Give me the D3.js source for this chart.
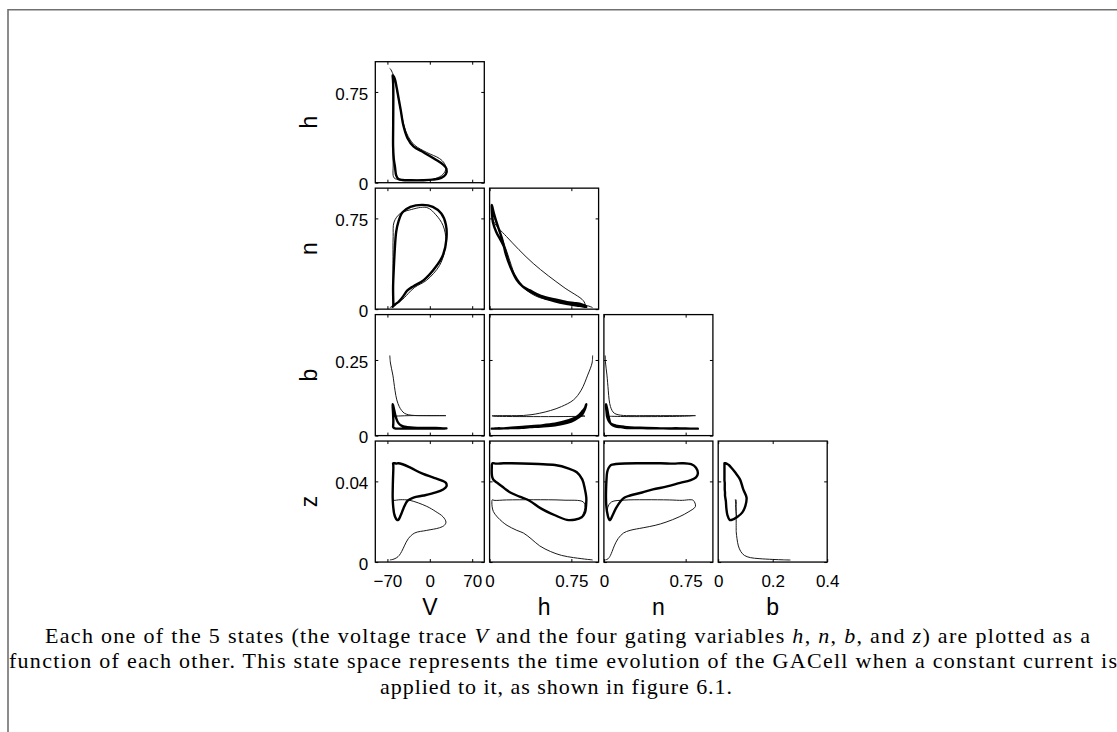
<!DOCTYPE html>
<html>
<head>
<meta charset="utf-8">
<script src="https://cdn.jsdelivr.net/npm/d3@7/dist/d3.min.js"></script>
<style>
  html, body { margin: 0; padding: 0; background: #fff; }
  svg { display: block; }
</style>
</head>
<body>
<svg id="fig" width="1117" height="732"></svg>
<script>
// ---- State-space data: transient after current onset (thin) and the limit cycle (thick) ----
const transV = [-66, -65, -61, -57.5, -54.5, -50.5, -46.5, -42, -35.5, -25, -5, 16, 24, 26.7, 22, 10, -5, -33, -49, -59, -60.5, -60.8, -60.6, -60.3, -60, -57];
const transH = [0.945, 0.94, 0.90, 0.84, 0.77, 0.66, 0.56, 0.46, 0.38, 0.31, 0.25, 0.20, 0.16, 0.12, 0.07, 0.035, 0.023, 0.022, 0.025, 0.04, 0.155, 0.40, 0.674, 0.86, 0.875, 0.845];
const transN = [0.012, 0.015, 0.028, 0.040, 0.048, 0.060, 0.075, 0.095, 0.13, 0.18, 0.24, 0.36, 0.47, 0.57, 0.69, 0.78, 0.84, 0.82, 0.79, 0.72, 0.60, 0.378, 0.185, 0.07, 0.035, 0.04];
const transB = [0.265, 0.24, 0.20, 0.15, 0.118, 0.096, 0.083, 0.074, 0.069, 0.0665, 0.066, 0.066, 0.066, 0.066, 0.066, 0.066, 0.066, 0.066, 0.065, 0.064, 0.0632, 0.0628, 0.063, 0.0638, 0.064, 0.068];
const transZ = [0.0010, 0.0011, 0.0013, 0.0017, 0.0022, 0.0033, 0.0052, 0.0080, 0.0116, 0.0144, 0.0157, 0.0170, 0.0182, 0.0198, 0.0224, 0.0250, 0.0276, 0.0306, 0.0309, 0.0306, 0.0308, 0.0309, 0.0307, 0.0298, 0.0270, 0.0222];

const cycleV = [-55.5, -57.5, -59.5, -60.6, -60.5, -60.3, -60.2, -60.4, -60.8, -61.2, -61.3, -60.6, -59.2, -57, -54.5, -52, -48, -43.5, -37, -27, -10, 10, 22, 27.5, 26.5, 19, 5, -12, -32, -45, -52];
const cycleH = [0.06, 0.13, 0.20, 0.30, 0.45, 0.60, 0.72, 0.80, 0.85, 0.875, 0.887, 0.885, 0.875, 0.845, 0.78, 0.71, 0.60, 0.47, 0.37, 0.30, 0.25, 0.19, 0.15, 0.115, 0.07, 0.04, 0.025, 0.02, 0.02, 0.022, 0.03];
const cycleN = [0.64, 0.52, 0.33, 0.19, 0.11, 0.065, 0.042, 0.030, 0.024, 0.020, 0.019, 0.022, 0.030, 0.040, 0.050, 0.058, 0.080, 0.11, 0.155, 0.19, 0.24, 0.35, 0.45, 0.58, 0.70, 0.79, 0.845, 0.862, 0.845, 0.80, 0.72];
const cycleB = [0.023, 0.024, 0.026, 0.029, 0.033, 0.039, 0.050, 0.062, 0.080, 0.092, 0.104, 0.100, 0.088, 0.068, 0.052, 0.042, 0.034, 0.030, 0.028, 0.026, 0.025, 0.025, 0.024, 0.024, 0.024, 0.023, 0.023, 0.023, 0.023, 0.023, 0.023];
const cycleZ = [0.0488, 0.0490, 0.0490, 0.0489, 0.0486, 0.0481, 0.0465, 0.0445, 0.0410, 0.0360, 0.0320, 0.0280, 0.0245, 0.0222, 0.0210, 0.0209, 0.0232, 0.0266, 0.0303, 0.0320, 0.0330, 0.0345, 0.0360, 0.0375, 0.0393, 0.0405, 0.0420, 0.0438, 0.0468, 0.0485, 0.0490];

// ---- Axes ----
const rowVars = ["h", "n", "b", "z"];
const colVars = ["V", "h", "n", "b"];
const domainV = [-90, 90];
const domainH = [0, 1];
const domainN = [0, 1];
const domainB = [0, 0.4];
const domainZ = [0, 0.06];

const xTicksV = [-70, 0, 70], xLabelsV = ["\u221270", "0", "70"];
const xTicksH = [0, 0.75],    xLabelsH = ["0", "0.75"];
const xTicksN = [0, 0.75],    xLabelsN = ["0", "0.75"];
const xTicksB = [0, 0.2, 0.4], xLabelsB = ["0", "0.2", "0.4"];
const yTicksH = [0, 0.75],    yLabelsH = ["0", "0.75"];
const yTicksN = [0, 0.75],    yLabelsN = ["0", "0.75"];
const yTicksB = [0, 0.25],    yLabelsB = ["0", "0.25"];
const yTicksZ = [0, 0.04],    yLabelsZ = ["0", "0.04"];

// ---- Caption ----
const captionLine1 = ["Each one of the 5 states (the voltage trace ", ["V"], " and the four gating variables ", ["h"], ", ", ["n"], ", ", ["b"], ", and ", ["z"], ") are plotted as a"];
const captionLine2 = ["function of each other. This state space represents the time evolution of the GACell when a constant current is"];
const captionLine3 = ["applied to it, as shown in figure 6.1."];

// ---------------------------------------------------------------------------------
const domains = { V: domainV, h: domainH, n: domainN, b: domainB, z: domainZ };
const xTicks = { V: [xTicksV, xLabelsV], h: [xTicksH, xLabelsH], n: [xTicksN, xLabelsN], b: [xTicksB, xLabelsB] };
const yTicks = { h: [yTicksH, yLabelsH], n: [yTicksN, yLabelsN], b: [yTicksB, yLabelsB], z: [yTicksZ, yLabelsZ] };

function toPoints(V, h, n, b, z) {
  return V.map((_, i) => ({ V: V[i], h: h[i], n: n[i], b: b[i], z: z[i] }));
}
const transient = toPoints(transV, transH, transN, transB, transZ);
const cycle = toPoints(cycleV, cycleH, cycleN, cycleB, cycleZ);

const svg = d3.select("#fig");

// page frame
svg.append("path")
  .attr("d", "M8,732V9.8H1117")
  .attr("fill", "none")
  .attr("stroke", "#707070")
  .attr("stroke-width", 1.6);

const panelLeft = 375.3, colStep = 114.3, panelW = 109;
const panelTop = 61.7, rowStep = 126.45, panelH = 121;
const tickFont = "'Liberation Sans', Arial, Helvetica, sans-serif";

rowVars.forEach((yv, r) => {
  colVars.forEach((xv, c) => {
    if (c > r) return;
    const x0 = panelLeft + c * colStep;
    const y0 = panelTop + r * rowStep;
    const x = d3.scaleLinear().domain(domains[xv]).range([x0, x0 + panelW]);
    const y = d3.scaleLinear().domain(domains[yv]).range([y0 + panelH, y0]);
    const g = svg.append("g");

    const clipId = `clip-${r}-${c}`;
    g.append("clipPath").attr("id", clipId)
      .append("rect").attr("x", x0).attr("y", y0).attr("width", panelW).attr("height", panelH);

    const plot = g.append("g").attr("clip-path", `url(#${clipId})`);
    const open = d3.line().x(d => x(d[xv])).y(d => y(d[yv])).curve(d3.curveCatmullRom.alpha(0.5));
    const closed = d3.line().x(d => x(d[xv])).y(d => y(d[yv])).curve(d3.curveCatmullRomClosed.alpha(0.5));

    plot.append("path").datum(transient).attr("d", open)
      .attr("fill", "none").attr("stroke", "#1a1a1a").attr("stroke-width", 1)
      .attr("stroke-linejoin", "round");
    plot.append("path").datum(cycle).attr("d", closed)
      .attr("fill", "none").attr("stroke", "#000").attr("stroke-width", 2.4)
      .attr("stroke-linejoin", "round");

    // inward ticks on all four sides
    const [xtv, xtl] = xTicks[xv];
    const [ytv, ytl] = yTicks[yv];
    const bottom = d3.axisBottom(x).tickValues(xtv).tickSizeInner(-3).tickSizeOuter(0).tickPadding(13)
      .tickFormat((d, i) => r === rowVars.length - 1 ? xtl[i] : "");
    const top = d3.axisTop(x).tickValues(xtv).tickSizeInner(-3).tickSizeOuter(0).tickFormat("");
    const left = d3.axisLeft(y).tickValues(ytv).tickSizeInner(-3).tickSizeOuter(0).tickPadding(7)
      .tickFormat((d, i) => c === 0 ? ytl[i] : "");
    const right = d3.axisRight(y).tickValues(ytv).tickSizeInner(-3).tickSizeOuter(0).tickFormat("");

    [[bottom, `translate(0,${y0 + panelH})`], [top, `translate(0,${y0})`],
     [left, `translate(${x0},0)`], [right, `translate(${x0 + panelW},0)`]].forEach(([ax, tr], k) => {
      const a = g.append("g").attr("transform", tr).call(ax);
      a.select(".domain").remove();
      a.selectAll(".tick line").attr("stroke", "#000").attr("stroke-width", 1);
      a.selectAll(".tick text").attr("fill", "#000")
        .attr("font-family", tickFont).attr("font-size", 17);
      if (k === 2) a.selectAll(".tick text").attr("dy", "0.42em");
    });

    g.append("rect").attr("x", x0).attr("y", y0).attr("width", panelW).attr("height", panelH)
      .attr("fill", "none").attr("stroke", "#000").attr("stroke-width", 1.3);

    if (c === 0) {
      svg.append("text")
        .attr("transform", `translate(317,${y0 + panelH / 2}) rotate(-90)`)
        .attr("text-anchor", "middle")
        .attr("font-family", tickFont).attr("font-size", 23)
        .text(yv);
    }
    if (r === rowVars.length - 1) {
      svg.append("text")
        .attr("x", x0 + panelW / 2).attr("y", 615)
        .attr("text-anchor", "middle")
        .attr("font-family", tickFont).attr("font-size", 23)
        .text(xv);
    }
  });
});

// caption
const serif = "'Liberation Serif', 'Times New Roman', serif";
function captionLine(parts, xStart, baseline, length) {
  const t = svg.append("text")
    .attr("x", xStart).attr("y", baseline)
    .attr("font-family", serif).attr("font-size", 22)
    .attr("fill", "#000")
    .attr("textLength", length).attr("lengthAdjust", "spacing");
  parts.forEach(p => {
    const s = t.append("tspan").text(Array.isArray(p) ? p[0] : p);
    if (Array.isArray(p)) s.attr("font-style", "italic");
  });
}
captionLine(captionLine1, 45, 643, 1045);
captionLine(captionLine2, 9, 668, 1108);
captionLine(captionLine3, 380, 694, 352);
</script>
</body>
</html>
